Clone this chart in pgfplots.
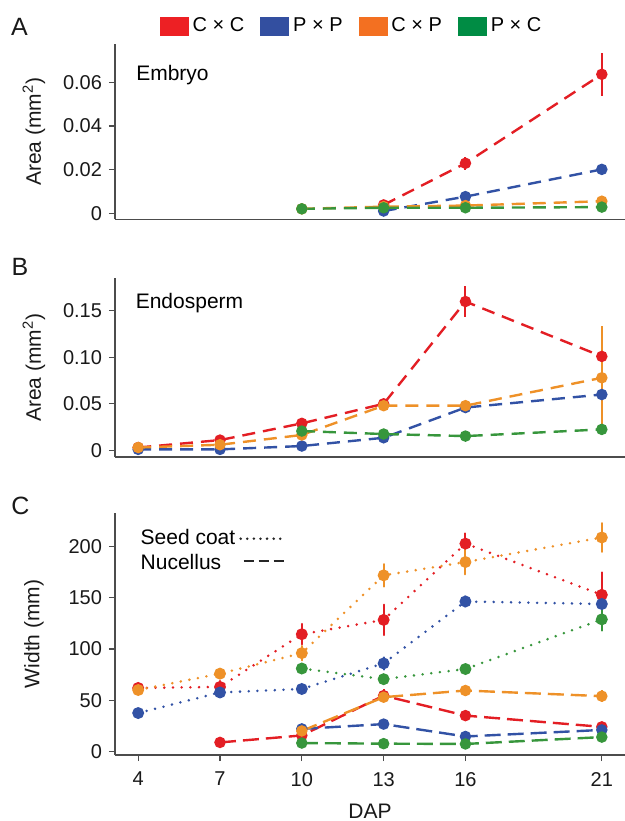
\documentclass[border=0pt]{standalone}
\usepackage{fontspec}
\setmainfont{Liberation Sans}
\usepackage{pgfplots}
\pgfplotsset{compat=1.18}

% plot colours
\definecolor{cred}{RGB}{227,30,36}
\definecolor{cblue}{RGB}{50,82,165}
\definecolor{corange}{RGB}{238,145,40}
\definecolor{cgreen}{RGB}{55,150,60}
% legend key colours
\definecolor{lred}{RGB}{237,32,36}
\definecolor{lblue}{RGB}{51,79,160}
\definecolor{lorange}{RGB}{243,112,33}
\definecolor{lgreen}{RGB}{0,140,68}

\pgfplotsset{
  panel/.style={
    scale only axis, width=255pt, xmin=3.15, xmax=21.85,
    axis x line*=bottom, axis y line*=left,
    axis line style={draw=black!70, line width=0.6pt},
    tick align=outside, major tick length=3pt,
    every tick/.style={draw=black!70, line width=0.6pt},
    tick label style={font=\fontsize{10}{12}\selectfont, text=black!90},
    /pgf/number format/assume math mode=true,
    scaled y ticks=false,
    label style={font=\fontsize{10.5}{12}\selectfont, text=black!90},
    ylabel style={at={(axis description cs:-0.159,0.5)}, anchor=center},
    clip=false,
  },
  ser/.style={line width=1.2pt, #1, mark=*, mark size=2.25pt,
    mark options={solid, fill=#1, draw=none},
    error bars/y dir=both, error bars/y explicit, error bars/error mark=none,
    error bars/error bar style={line width=1pt, solid, #1}},
  dsh/.style={dash pattern=on 6.5pt off 4pt},
  dsh2/.style={dash pattern=on 8pt off 3.5pt},
  dot/.style={line width=1.4pt, line cap=round, dash pattern=on 0pt off 4.35pt},
}

\begin{document}
\begin{tikzpicture}

% ---------------- A: embryo
\begin{axis}[panel, at={(57.5pt,-109.65pt)}, anchor=south west, height=87.65pt,
  ymin=-0.0028, ymax=0.0776, xtick=\empty,
  ytick={0,0.02,0.04,0.06}, yticklabels={0,0.02,0.04,0.06},
  ylabel={Area (mm\textsuperscript{2})},
  legend style={at={(axis description cs:0.466,1.103)}, anchor=center, draw=none, fill=none,
    font=\fontsize{10}{12}\selectfont, legend columns=4,
    /tikz/every even column/.append style={column sep=6pt}},
]
\addlegendimage{legend image code/.code={\fill[lred] (0pt,-4.5pt) rectangle (14pt,4.5pt);}}
\addlegendentry{C × C}
\addlegendimage{legend image code/.code={\fill[lblue] (0pt,-4.5pt) rectangle (14pt,4.5pt);}}
\addlegendentry{P × P}
\addlegendimage{legend image code/.code={\fill[lorange] (0pt,-4.5pt) rectangle (14pt,4.5pt);}}
\addlegendentry{C × P}
\addlegendimage{legend image code/.code={\fill[lgreen] (0pt,-4.5pt) rectangle (14pt,4.5pt);}}
\addlegendentry{P × C}

\addplot[ser=cred, dsh, forget plot] coordinates {(13,0.0038) +- (0,0) (16,0.0229) +- (0,0.003) (21,0.0637) +- (0,0.010)};
\addplot[ser=cblue, dsh, forget plot] coordinates {(13,0.0010) +- (0,0) (16,0.0076) +- (0,0.001) (21,0.0201) +- (0,0.0008)};
\addplot[ser=corange, dsh, forget plot] coordinates {(10,0.0020) +- (0,0) (13,0.0030) +- (0,0) (16,0.0035) +- (0,0) (21,0.0055) +- (0,0.0005)};
\addplot[ser=cgreen, dsh, forget plot] coordinates {(10,0.0020) +- (0,0) (13,0.0025) +- (0,0) (16,0.0025) +- (0,0) (21,0.0028) +- (0,0)};
\node[anchor=base west, inner sep=0pt, font=\fontsize{10.5}{12}\selectfont] at (axis description cs:0.041,0.791) {Embryo};
\end{axis}

% ---------------- B: endosperm
\begin{axis}[panel, at={(57.5pt,-228.5pt)}, anchor=south west, height=89.5pt,
  ymin=-0.0072, ymax=0.1853, xtick=\empty,
  ytick={0,0.05,0.10,0.15}, yticklabels={0,0.05,0.10,0.15},
  ylabel={Area (mm\textsuperscript{2})},
]
\addplot[ser=cred, dsh] coordinates {(4,0.003) +- (0,0) (7,0.011) +- (0,0) (10,0.029) +- (0,0) (13,0.050) +- (0,0) (16,0.160) +- (0,0.017) (21,0.101) +- (0,0.033)};
\addplot[ser=cblue, dsh] coordinates {(4,0.001) +- (0,0) (7,0.001) +- (0,0) (10,0.0046) +- (0,0) (13,0.0135) +- (0,0) (16,0.046) +- (0,0.003) (21,0.060) +- (0,0.005)};
\addplot[ser=corange, dsh] coordinates {(4,0.003) +- (0,0) (7,0.006) +- (0,0) (10,0.0165) +- (0,0) (13,0.048) +- (0,0.002) (16,0.048) +- (0,0.002) (21,0.078) +- (0,0.056)};
\addplot[ser=cgreen, dsh] coordinates {(10,0.0207) +- (0,0) (13,0.0175) +- (0,0) (16,0.0153) +- (0,0) (21,0.0225) +- (0,0.002)};
\node[anchor=base west, inner sep=0pt, font=\fontsize{10.5}{12}\selectfont] at (axis description cs:0.040,0.8296) {Endosperm};
\end{axis}

% ---------------- C: width of seed coat and nucellus
\begin{axis}[panel, at={(57.5pt,-377.5pt)}, anchor=south west, height=121.15pt,
  ymin=-3.5, ymax=233.2,
  xtick={4,7,10,13,16,21}, ytick={0,50,100,150,200},
  xticklabel style={yshift=-2pt},
  ylabel={Width (mm)}, xlabel={DAP},
  xlabel style={at={(axis description cs:0.5,-0.231)}, anchor=center},
  legend plot pos=right, legend cell align=left,
  legend style={at={(axis description cs:0.03,0.965)}, anchor=north west, draw=none, fill=none,
    font=\fontsize{10.5}{12}\selectfont, row sep=-1pt},
]
\addlegendimage{legend image code/.code={\draw[black!85, line width=1.4pt, line cap=round, dash pattern=on 0pt off 3.3pt] (0pt,0pt) -- (23pt,0pt);}}
\addlegendentry{Seed coat}
\addlegendimage{legend image code/.code={\draw[black!85, line width=1.2pt] (1.5pt,1pt) -- (6.5pt,1pt) (9pt,1pt) -- (14pt,1pt) (16.5pt,1pt) -- (21.5pt,1pt);}}
\addlegendentry{Nucellus}

% seed coat
\addplot[ser=cred, dot, forget plot] coordinates {(4,62) +- (0,2) (7,63) +- (0,6) (10,114.5) +- (0,10) (13,128.5) +- (0,15) (16,203) +- (0,10) (21,153) +- (0,22)};
\addplot[ser=cblue, dot, forget plot] coordinates {(4,37.5) +- (0,2) (7,57.6) +- (0,3) (10,61) +- (0,3) (13,86) +- (0,6) (16,146.5) +- (0,5) (21,144) +- (0,8)};
\addplot[ser=corange, dot, forget plot] coordinates {(4,60) +- (0,2) (7,76) +- (0,4) (10,96) +- (0,7) (13,172) +- (0,11) (16,185) +- (0,12) (21,209) +- (0,14)};
\addplot[ser=cgreen, dot, forget plot] coordinates {(10,81) +- (0,3) (13,70.6) +- (0,3) (16,80.5) +- (0,4) (21,129) +- (0,11)};
% nucellus
\addplot[ser=cred, dsh2, forget plot] coordinates {(7,8.8) +- (0,2) (10,15.6) +- (0,2) (13,54.5) +- (0,6) (16,35) +- (0,4) (21,24) +- (0,5)};
\addplot[ser=cblue, dsh2, forget plot] coordinates {(10,22) +- (0,2) (13,26.7) +- (0,3) (16,14.6) +- (0,3) (21,21) +- (0,3)};
\addplot[ser=corange, dsh2, forget plot] coordinates {(10,20) +- (0,2) (13,53) +- (0,5) (16,59.5) +- (0,5) (21,54) +- (0,6)};
\addplot[ser=cgreen, dsh2, forget plot] coordinates {(10,8.2) +- (0,2) (13,7.6) +- (0,2) (16,7.3) +- (0,2) (21,14) +- (0,2)};
\end{axis}

% panel letters
\node[font=\fontsize{12.5}{14}\selectfont, text=black!90] at (9.75pt,-13.5pt) {A};
\node[font=\fontsize{12.5}{14}\selectfont, text=black!90] at (10pt,-133.5pt) {B};
\node[font=\fontsize{12.5}{14}\selectfont, text=black!90] at (10.25pt,-253pt) {C};

\pgfresetboundingbox
\path[use as bounding box] (0,0) rectangle (312.5pt,-410.5pt);
\end{tikzpicture}
\end{document}
